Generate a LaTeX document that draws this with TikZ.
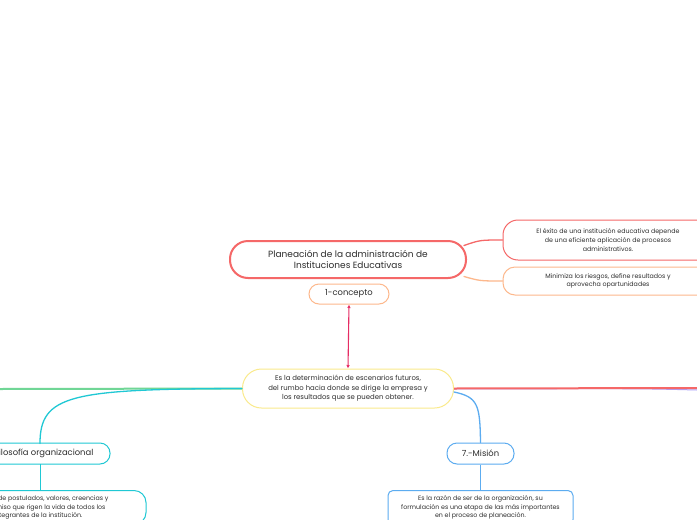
\documentclass[tikz,border=0pt]{standalone}
\usepackage{fontspec}
\setmainfont{Poppins}
\usetikzlibrary{arrows.meta,calc}

\definecolor{titlered}{RGB}{245,104,104}
\definecolor{peach}{RGB}{253,184,140}
\definecolor{crimson}{RGB}{230,45,100}
\definecolor{paleyellow}{RGB}{250,234,140}
\definecolor{mint}{RGB}{112,214,150}
\definecolor{turq}{RGB}{32,200,212}
\definecolor{skyblue}{RGB}{92,172,240}
\definecolor{lilac}{RGB}{172,162,250}
\definecolor{ink}{RGB}{45,45,45}

\begin{document}
\begin{tikzpicture}[x=1pt,y=-1pt,>=Latex]
	
	% ------------------------------------------------------------
	% Styles (rounded mind-map boxes, thin coloured branches)
	% ------------------------------------------------------------
	\tikzset{
		pill/.style={draw,fill=white,text=ink,align=center,inner sep=0pt,
			rounded corners=10pt,line width=1pt},
		card/.style={draw,fill=white,text=ink,align=center,inner sep=0pt,
			rounded corners=5pt,line width=1pt},
		maintxt/.style={font=\fontsize{9}{11}\selectfont},
		subtxt/.style={font=\fontsize{8.4}{10}\selectfont},
		smalltxt/.style={font=\fontsize{6.3}{8.8}\selectfont},
		branch/.style={line width=1.3pt,line cap=round},
		trunk/.style={line width=2pt}
	}
	
	% Canvas
	\fill[white] (0,0) rectangle (697,520);
	\useasboundingbox (0,0) rectangle (697,520);
	
	% ============================================================
	% TOP: title and its two notes on the right
	% ============================================================
	\node[pill,maintxt,draw=titlered,line width=2pt,rounded corners=18pt,
		minimum width=236pt,minimum height=37pt] (title) at (348,259.5)
		{Planeación de la administración de\\Instituciones Educativas};
	
	\node[pill,smalltxt,draw=titlered,rounded corners=15pt,
		minimum width=210pt,minimum height=40pt] (exito) at (608,240)
		{El éxito de una institución educativa depende\\de una eficiente aplicación de procesos\\administrativos.};
	
	\node[pill,smalltxt,draw=peach,rounded corners=12pt,
		minimum width=210pt,minimum height=28pt] (riesgos) at (608,281)
		{Minimiza los riesgos, define resultados y\\aprovecha opartunidades};
	
	\node[pill,subtxt,draw=peach,minimum width=80pt,minimum height=20pt]
		(concepto) at (349,294) {1-concepto};
	
	% Curved branches to the notes
	\draw[branch,titlered] ($(title.east)+(-3,-14)$) .. controls (480,240) .. (exito.west);
	\draw[branch,peach] ($(title.east)+(-3,17)$) .. controls (480,281) .. (riesgos.west);
	
	% ============================================================
	% MIDDLE: definition node, linked both ways to 1-concepto
	% ============================================================
	\node[pill,smalltxt,font=\fontsize{6.9}{9.6}\selectfont,draw=paleyellow,
		rounded corners=19pt,minimum width=211pt,minimum height=39pt]
		(definicion) at (348,388.5)
		{Es la determinación de escenarios futuros,\\del rumbo hacia donde se dirige la empresa y\\los resultados que se pueden obtener.};
	
	\draw[{Latex[length=3.5pt,width=3.5pt]}-{Latex[length=3.5pt,width=3.5pt]},
		line width=1.1pt,crimson] (concepto.south) -- (definicion.north);
	
	% Branches leaving the picture on both sides
	\coordinate (leftEnd)  at (0,389);
	\coordinate (rightEnd) at (697,388);
	\coordinate (rightLow) at (697,390);
	\draw[trunk,mint] (definicion.west) -- (leftEnd);
	\draw[line width=1pt,lilac] ($(definicion.east)+(0,0.5)$) .. controls (640,388.5) .. (rightLow);
	\draw[trunk,titlered] (definicion.east) -- (rightEnd);
	
	% ============================================================
	% BOTTOM LEFT: Filosofía organizacional (cut by the left edge)
	% ============================================================
	\node[pill,subtxt,draw=turq,minimum width=132pt,minimum height=21pt]
		(filosofia) at (44,453.5) {Filosofía organizacional};
	\node[card,smalltxt,draw=turq,rounded corners=12pt,
		minimum width=216pt,minimum height=34pt,anchor=north]
		(filotexto) at (38,490)
		{Conjunto de postulados, valores, creencias y\\compromiso que rigen la vida de todos los\\integrantes de la institución.};
	
	\draw[branch,turq] (definicion.west) .. controls (70,389) and (40,395) .. (40,443.5);
	\draw[line width=1pt,turq] (40,464) -- (40,490);
	
	% ============================================================
	% BOTTOM RIGHT: 7.-Misión
	% ============================================================
	\node[pill,subtxt,draw=skyblue,minimum width=67pt,minimum height=21pt]
		(mision) at (480.5,453.5) {7.-Misión};
	\node[card,smalltxt,draw=skyblue,minimum width=185pt,minimum height=34pt,
		anchor=north] (misiontexto) at (480.5,490)
		{Es la razón de ser de la organización, su\\formulación es una etapa de las más importantes\\en el proceso de planeación.};
	
	\draw[branch,skyblue] ($(definicion.east)+(0,3.5)$) .. controls (478,397) and (480,405) .. (mision.north);
	\draw[line width=1pt,skyblue] (mision.south) -- (misiontexto.north);
	
\end{tikzpicture}
\end{document}
